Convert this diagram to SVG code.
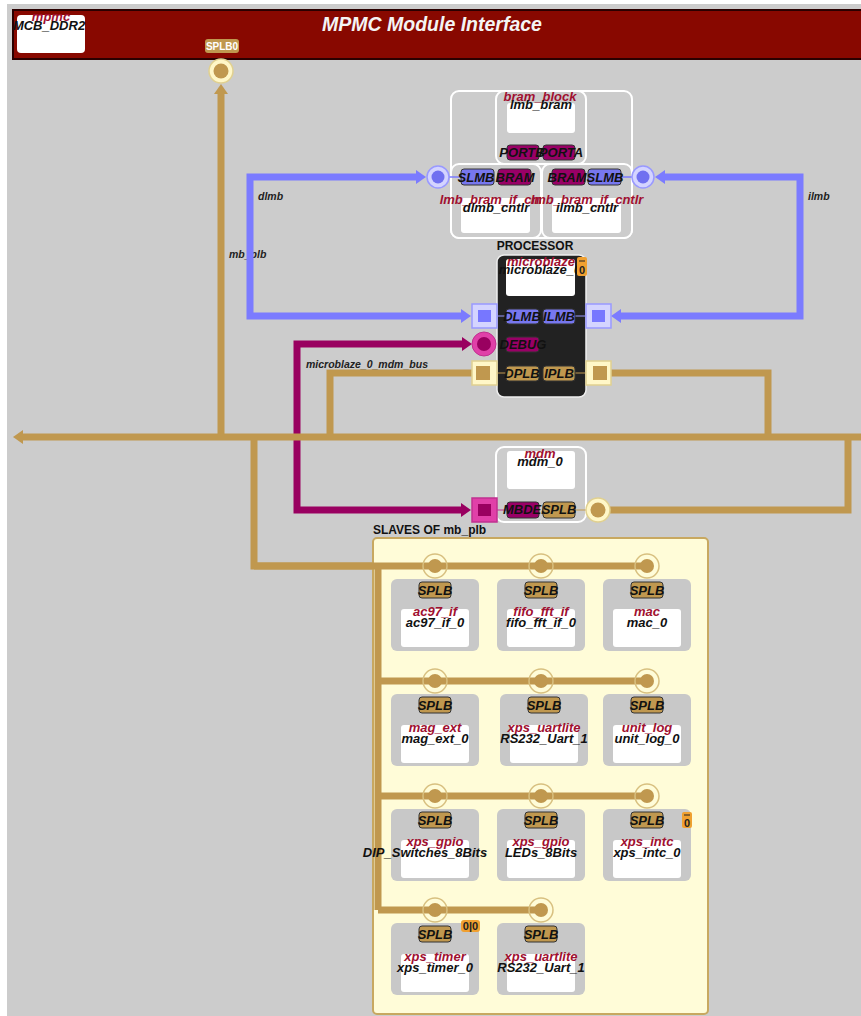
<svg xmlns="http://www.w3.org/2000/svg" width="861" height="1016" viewBox="0 0 861 1016">
<style>
.t{font-family:"Liberation Sans",Arial,sans-serif;font-weight:bold;font-style:italic;font-size:13px;text-anchor:middle;fill:#111}
.r{font-family:"Liberation Sans",Arial,sans-serif;font-weight:bold;font-style:italic;font-size:13px;text-anchor:middle;fill:#A01030}
.lbl{font-family:"Liberation Sans",Arial,sans-serif;font-weight:bold;font-style:italic;font-size:10.5px;fill:#222}
.h{font-family:"Liberation Sans",Arial,sans-serif;font-weight:bold;font-size:12px;fill:#111}
.box{fill:#CCCCCC;stroke:#FFFFFF;stroke-width:2}
.wb{fill:#FFFFFF}
.sb{fill:#C8C8C8}
.pb{fill:#7777EE;stroke:#333;stroke-width:1}
.pm{fill:#990066;stroke:#333;stroke-width:1}
.pt{fill:#C0984F;stroke:#333;stroke-width:1}
.tan{fill:none;stroke:#C0984F;stroke-width:7}
.blue{fill:none;stroke:#7B7BFF;stroke-width:7}
.mag{fill:none;stroke:#990060;stroke-width:7}
.badge{fill:#F0A030}
.bt{font-family:"Liberation Sans",Arial,sans-serif;font-weight:bold;font-size:11px;text-anchor:middle;fill:#222}
</style>
<defs>
<marker id="aTan" viewBox="0 0 10 14" refX="0" refY="7" markerWidth="10" markerHeight="14" markerUnits="userSpaceOnUse" orient="auto-start-reverse"><path d="M0 0 L10 7 L0 14 z" fill="#C0984F"/></marker>
<marker id="aBlue" viewBox="0 0 10 14" refX="0" refY="7" markerWidth="10" markerHeight="14" markerUnits="userSpaceOnUse" orient="auto-start-reverse"><path d="M0 0 L10 7 L0 14 z" fill="#7B7BFF"/></marker>
<marker id="aMag" viewBox="0 0 10 14" refX="0" refY="7" markerWidth="10" markerHeight="14" markerUnits="userSpaceOnUse" orient="auto-start-reverse"><path d="M0 0 L10 7 L0 14 z" fill="#990060"/></marker>
</defs>
<rect x="0" y="0" width="861" height="1016" fill="#FFFFFF"/>
<rect x="7" y="4" width="854" height="1012" fill="#CCCCCC"/>

<g id="mpmc_header">
<rect x="13" y="10" width="860" height="49" fill="#880800" stroke="#2A0000" stroke-width="2"/>
<text x="432" y="31" style="font-family:'Liberation Sans',Arial,sans-serif;font-weight:bold;font-style:italic;font-size:19.5px;fill:#F4F4F4;text-anchor:middle">MPMC Module Interface</text>
</g>
<g id="MCB_DDR2">
<rect x="17" y="15" width="68" height="38" rx="4" class="wb"/>
<text x="51" y="21" class="r">mpmc</text>
<text x="49" y="30" class="t">MCB_DDR2</text>
<rect x="205" y="39" width="34" height="14" rx="3" fill="#C0984F"/>
<text x="222" y="50" style="font-family:'Liberation Sans',Arial,sans-serif;font-weight:bold;font-size:10px;fill:#FFFFFF;text-anchor:middle">SPLB0</text>
</g>

<g id="connectors">
<text x="258" y="200" class="lbl">dlmb</text>
<text x="808" y="200" class="lbl">ilmb</text>
<text x="229" y="258" class="lbl">mb_plb</text>
<text x="306" y="368" class="lbl">microblaze_0_mdm_bus</text>
<path class="mag" d="M462 344 H297 V510 H461" marker-start="url(#aMag)" marker-end="url(#aMag)"/>
<path class="tan" d="M861 437 H23" marker-end="url(#aTan)"/>
<path class="tan" d="M221 437 V94" marker-end="url(#aTan)"/>
<path class="tan" d="M330 437 V373 H472"/>
<path class="tan" d="M768 437 V373 H598"/>
<path class="tan" d="M848 437 V510 H598"/>
<path class="tan" d="M254 437 V566 H647"/>
<path class="blue" d="M416 177 H250 V316 H461" marker-start="url(#aBlue)" marker-end="url(#aBlue)"/>
<path class="blue" d="M665 177 H800 V316 H621" marker-start="url(#aBlue)" marker-end="url(#aBlue)"/>
</g>

<g id="slaves_box">
<text x="373" y="534" class="h">SLAVES OF mb_plb</text>
<rect x="373" y="538" width="335" height="476" rx="4" fill="#FFFCD8" stroke="#C8A860" stroke-width="2"/>
<path class="tan" d="M254 566 H647 M378 566 V910 M378 681 H647 M378 796 H647 M378 910 H541"/>
</g>

<g id="bram_group">
<rect x="451" y="91" width="181" height="147" rx="8" class="box"/>
</g>
<g id="lmb_bram">
<rect x="496" y="91" width="90" height="73" rx="8" class="box"/>
<rect x="507" y="103" width="68" height="30" rx="3" class="wb"/>
<text x="540" y="101" class="r">bram_block</text>
<text x="541" y="109" class="t">lmb_bram</text>
<rect x="507" y="145" width="32" height="15" rx="3" class="pm"/>
<rect x="543" y="145" width="32" height="15" rx="3" class="pm"/>
<text x="522" y="157" class="t">PORTB</text>
<text x="561" y="157" class="t">PORTA</text>
</g>
<g id="dlmb_cntlr">
<rect x="451" y="164" width="90" height="74" rx="8" class="box"/>
<rect x="461" y="198" width="69" height="35" rx="3" class="wb"/>
<line x1="449" y1="177" x2="461" y2="177" stroke="#7B7BFF" stroke-width="1.5"/>
<rect x="461" y="169" width="33" height="16" rx="3" class="pb"/>
<rect x="498" y="169" width="33" height="16" rx="3" class="pm"/>
<text x="476" y="182" class="t">SLMB</text>
<text x="515" y="182" class="t">BRAM</text>
<text x="496" y="204" class="r">lmb_bram_if_cntlr</text>
<text x="496" y="212" class="t">dlmb_cntlr</text>
<circle cx="438" cy="177" r="11" fill="#D4D4FF" stroke="#9999FF" stroke-width="1.5"/>
<circle cx="438" cy="177" r="6.5" fill="#7070F0"/>
</g>
<g id="ilmb_cntlr">
<rect x="542" y="164" width="90" height="74" rx="8" class="box"/>
<rect x="552" y="198" width="69" height="35" rx="3" class="wb"/>
<line x1="621" y1="177" x2="632" y2="177" stroke="#7B7BFF" stroke-width="1.5"/>
<rect x="552" y="169" width="33" height="16" rx="3" class="pm"/>
<rect x="588" y="169" width="33" height="16" rx="3" class="pb"/>
<text x="567" y="182" class="t">BRAM</text>
<text x="605" y="182" class="t">SLMB</text>
<text x="587" y="204" class="r">lmb_bram_if_cntlr</text>
<text x="587" y="212" class="t">ilmb_cntlr</text>
<circle cx="643" cy="177" r="11" fill="#D4D4FF" stroke="#9999FF" stroke-width="1.5"/>
<circle cx="643" cy="177" r="6.5" fill="#7070F0"/>
</g>

<g id="microblaze_0">
<text x="535" y="250" class="h" text-anchor="middle">PROCESSOR</text>
<rect x="497" y="255" width="89" height="142" rx="7" fill="#222222" stroke="#EEEEEE" stroke-width="1.5"/>
<rect x="506" y="259" width="69" height="37" rx="3" class="wb"/>
<text x="541" y="266" class="r">microblaze</text>
<text x="540" y="274" class="t">microblaze_0</text>
<rect x="577" y="257" width="10" height="19" rx="2" class="badge"/>
<line x1="579" y1="261" x2="585" y2="261" stroke="#222" stroke-width="1"/>
<text x="582" y="274" class="bt">0</text>
<line x1="497" y1="316" x2="506" y2="316" stroke="#9999FF" stroke-width="1"/>
<line x1="575" y1="316" x2="586" y2="316" stroke="#9999FF" stroke-width="1"/>
<line x1="497" y1="373" x2="506" y2="373" stroke="#C0984F" stroke-width="1"/>
<line x1="575" y1="373" x2="586" y2="373" stroke="#C0984F" stroke-width="1"/>
<rect x="506" y="309" width="33" height="15" rx="3" class="pb"/>
<rect x="543" y="309" width="32" height="15" rx="3" class="pb"/>
<text x="522" y="321" class="t">DLMB</text>
<text x="559" y="321" class="t">ILMB</text>
<rect x="506" y="337" width="33" height="15" rx="3" class="pm"/>
<text x="523" y="349" class="t">DEBUG</text>
<rect x="506" y="366" width="33" height="15" rx="3" class="pt"/>
<rect x="543" y="366" width="32" height="15" rx="3" class="pt"/>
<text x="522" y="378" class="t">DPLB</text>
<text x="559" y="378" class="t">IPLB</text>
<rect x="472" y="304" width="25" height="24" fill="#D4D4FF" stroke="#9999FF" stroke-width="1.5"/>
<rect x="478" y="310" width="13" height="12" fill="#7777FF"/>
<rect x="586" y="304" width="25" height="24" fill="#D4D4FF" stroke="#9999FF" stroke-width="1.5"/>
<rect x="592" y="310" width="13" height="12" fill="#7777FF"/>
<circle cx="484" cy="344" r="12" fill="#E040A8" stroke="#C03090" stroke-width="1"/>
<circle cx="484" cy="344" r="7" fill="#990060"/>
<rect x="472" y="361" width="25" height="24" fill="#FFF7C8" stroke="#E0D090" stroke-width="1.5"/>
<rect x="476" y="366" width="14" height="14" fill="#C0984F"/>
<rect x="586" y="361" width="25" height="24" fill="#FFF7C8" stroke="#E0D090" stroke-width="1.5"/>
<rect x="593" y="366" width="14" height="14" fill="#C0984F"/>
</g>

<g id="mdm_0">
<rect x="496" y="447" width="90" height="75" rx="8" class="box"/>
<rect x="507" y="451" width="68" height="38" rx="3" class="wb"/>
<text x="540" y="458" class="r">mdm</text>
<text x="540" y="466" class="t">mdm_0</text>
<line x1="497" y1="510" x2="507" y2="510" stroke="#C03090" stroke-width="1"/>
<line x1="575" y1="510" x2="586" y2="510" stroke="#C0984F" stroke-width="1"/>
<rect x="507" y="502" width="32" height="16" rx="3" class="pm"/>
<text x="503" y="514" class="t" style="text-anchor:start">MBDEBUG</text>
<rect x="543" y="502" width="32" height="16" rx="3" class="pt"/>
<text x="559" y="514" class="t">SPLB</text>
<rect x="472" y="498" width="25" height="24" fill="#E040A8" stroke="#C03090" stroke-width="1.5"/>
<rect x="478" y="504" width="13" height="12" fill="#990060"/>
<circle cx="598" cy="510" r="12" fill="#FFF7C8" stroke="#E0D090" stroke-width="1.5"/>
<circle cx="598" cy="510" r="7.5" fill="#C0984F"/>
</g>

<g id="splb0_bif">
<circle cx="221" cy="71" r="12" fill="#FFF7C8" stroke="#E0D090" stroke-width="1.5"/>
<circle cx="221" cy="71" r="7.5" fill="#C0984F"/>
</g>

<g id="slave_bifs" fill="none">
<g stroke="#D8C080" stroke-width="1.5">
<circle cx="435" cy="566" r="12"/><circle cx="541" cy="566" r="12"/><circle cx="647" cy="566" r="12"/>
<circle cx="435" cy="681" r="12"/><circle cx="541" cy="681" r="12"/><circle cx="647" cy="681" r="12"/>
<circle cx="435" cy="796" r="12"/><circle cx="541" cy="796" r="12"/><circle cx="647" cy="796" r="12"/>
<circle cx="435" cy="910" r="12"/><circle cx="541" cy="910" r="12"/>
</g>
<g fill="#C0984F">
<circle cx="435" cy="566" r="7"/><circle cx="541" cy="566" r="7"/><circle cx="647" cy="566" r="7"/>
<circle cx="435" cy="681" r="7"/><circle cx="541" cy="681" r="7"/><circle cx="647" cy="681" r="7"/>
<circle cx="435" cy="796" r="7"/><circle cx="541" cy="796" r="7"/><circle cx="647" cy="796" r="7"/>
<circle cx="435" cy="910" r="7"/><circle cx="541" cy="910" r="7"/>
</g>
</g>

<g id="ac97_if_0">
<rect x="391" y="579" width="88" height="72" rx="6" class="sb"/>
<rect x="419" y="582" width="32" height="16" rx="3" class="pt"/><text x="435" y="595" class="t">SPLB</text>
<rect x="401" y="609" width="68" height="38" rx="3" class="wb"/>
<text x="435" y="616" class="r">ac97_if</text><text x="435" y="627" class="t">ac97_if_0</text>
</g>
<g id="fifo_fft_if_0">
<rect x="497" y="579" width="88" height="72" rx="6" class="sb"/>
<rect x="525" y="582" width="32" height="16" rx="3" class="pt"/><text x="541" y="595" class="t">SPLB</text>
<rect x="507" y="609" width="68" height="38" rx="3" class="wb"/>
<text x="541" y="616" class="r">fifo_fft_if</text><text x="541" y="627" class="t">fifo_fft_if_0</text>
</g>
<g id="mac_0">
<rect x="603" y="579" width="88" height="72" rx="6" class="sb"/>
<rect x="631" y="582" width="32" height="16" rx="3" class="pt"/><text x="647" y="595" class="t">SPLB</text>
<rect x="613" y="609" width="68" height="38" rx="3" class="wb"/>
<text x="647" y="616" class="r">mac</text><text x="647" y="627" class="t">mac_0</text>
</g>

<g id="mag_ext_0">
<rect x="391" y="694" width="88" height="72" rx="6" class="sb"/>
<rect x="419" y="697" width="32" height="16" rx="3" class="pt"/><text x="435" y="710" class="t">SPLB</text>
<rect x="401" y="725" width="68" height="38" rx="3" class="wb"/>
<text x="435" y="732" class="r">mag_ext</text><text x="435" y="743" class="t">mag_ext_0</text>
</g>
<g id="RS232_Uart_1_a">
<rect x="500" y="694" width="88" height="72" rx="6" class="sb"/>
<rect x="528" y="697" width="32" height="16" rx="3" class="pt"/><text x="544" y="710" class="t">SPLB</text>
<rect x="510" y="725" width="68" height="38" rx="3" class="wb"/>
<text x="544" y="732" class="r">xps_uartlite</text><text x="544" y="743" class="t">RS232_Uart_1</text>
</g>
<g id="unit_log_0">
<rect x="603" y="694" width="88" height="72" rx="6" class="sb"/>
<rect x="631" y="697" width="32" height="16" rx="3" class="pt"/><text x="647" y="710" class="t">SPLB</text>
<rect x="613" y="725" width="68" height="38" rx="3" class="wb"/>
<text x="647" y="732" class="r">unit_log</text><text x="647" y="743" class="t">unit_log_0</text>
</g>

<g id="DIP_Switches_8Bits">
<rect x="391" y="809" width="88" height="72" rx="6" class="sb"/>
<rect x="419" y="812" width="32" height="16" rx="3" class="pt"/><text x="435" y="825" class="t">SPLB</text>
<rect x="401" y="840" width="68" height="38" rx="3" class="wb"/>
<text x="435" y="846" class="r">xps_gpio</text><text x="425" y="857" class="t">DIP_Switches_8Bits</text>
</g>
<g id="LEDs_8Bits">
<rect x="497" y="809" width="88" height="72" rx="6" class="sb"/>
<rect x="525" y="812" width="32" height="16" rx="3" class="pt"/><text x="541" y="825" class="t">SPLB</text>
<rect x="507" y="840" width="68" height="38" rx="3" class="wb"/>
<text x="541" y="846" class="r">xps_gpio</text><text x="541" y="857" class="t">LEDs_8Bits</text>
</g>
<g id="xps_intc_0">
<rect x="603" y="809" width="88" height="72" rx="6" class="sb"/>
<rect x="631" y="812" width="32" height="16" rx="3" class="pt"/><text x="647" y="825" class="t">SPLB</text>
<rect x="613" y="840" width="68" height="38" rx="3" class="wb"/>
<text x="647" y="846" class="r">xps_intc</text><text x="647" y="857" class="t">xps_intc_0</text>
<rect x="682" y="812" width="10" height="16" rx="2" class="badge"/>
<line x1="684" y1="815" x2="690" y2="815" stroke="#222" stroke-width="1"/>
<text x="687" y="827" class="bt">0</text>
</g>

<g id="xps_timer_0">
<rect x="391" y="923" width="88" height="72" rx="6" class="sb"/>
<rect x="419" y="926" width="32" height="16" rx="3" class="pt"/><text x="435" y="939" class="t">SPLB</text>
<rect x="401" y="954" width="68" height="38" rx="3" class="wb"/>
<text x="435" y="961" class="r">xps_timer</text><text x="435" y="972" class="t">xps_timer_0</text>
<rect x="461" y="920" width="19" height="12" rx="3" class="badge"/>
<text x="470.5" y="930" class="bt">0|0</text>
</g>
<g id="RS232_Uart_1_b">
<rect x="497" y="923" width="88" height="72" rx="6" class="sb"/>
<rect x="525" y="926" width="32" height="16" rx="3" class="pt"/><text x="541" y="939" class="t">SPLB</text>
<rect x="507" y="954" width="68" height="38" rx="3" class="wb"/>
<text x="541" y="961" class="r">xps_uartlite</text><text x="541" y="972" class="t">RS232_Uart_1</text>
</g>
</svg>
